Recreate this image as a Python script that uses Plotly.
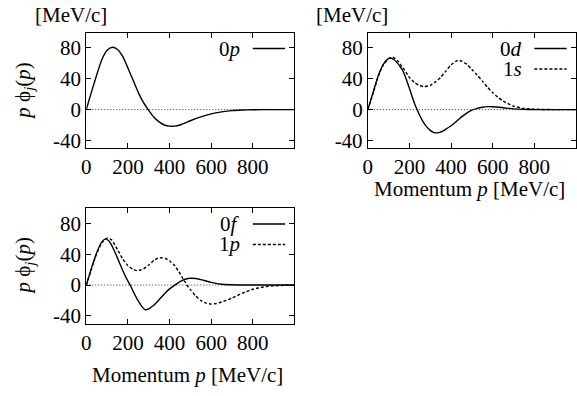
import plotly.graph_objects as go

# ---------------- data ----------------
p_0p = [0, 25, 50, 75, 100, 125, 150, 175, 200, 225, 250, 275, 300, 325, 350, 375, 400, 425, 450,
        500, 550, 600, 650, 700, 750, 800, 900, 1000]
v_0p = [0, 23, 45, 65, 77, 81, 78, 69, 54, 38, 22, 9, -1, -10, -16, -20, -21.5, -21.5, -20,
        -14.5, -9.5, -5.5, -3, -1.3, -0.6, -0.2, 0, 0]

p_0d = [0, 25, 50, 75, 100, 110, 125, 140, 155, 170, 185, 200, 215, 230, 240, 250, 265, 280, 300,
        315, 330, 345, 360, 380, 400, 425, 450, 475, 500, 525, 550, 575, 600, 650, 700, 750, 800,
        900, 1000]
v_0d = [0, 22, 44, 59, 66.5, 67, 65, 61, 56, 49.5, 39, 27.5, 15, 4, -2, -8, -15.5, -21.5, -27,
        -29.5, -30.2, -29.5, -28, -24.5, -21, -15.5, -9.5, -4.5, -0.8, 1.5, 3, 3.8, 3.6, 2.4, 1,
        0.3, 0, 0, 0]

p_1s = [0, 25, 50, 75, 100, 121, 144, 175, 201, 225, 250, 273, 300, 325, 350, 375, 400, 432, 450,
        475, 500, 525, 550, 575, 600, 625, 650, 700, 750, 800, 850, 900, 1000]
v_1s = [0, 21, 43, 58.5, 66, 68, 63, 52, 41.4, 35, 31, 29.9, 31.5, 36, 42, 50, 58, 64, 63,
        59, 52, 45, 37, 29, 22, 16, 11, 4.5, 1.5, 0.5, 0.1, 0, 0]

p_0f = [0, 25, 50, 75, 92, 110, 125, 150, 175, 200, 211, 225, 250, 270, 283, 300, 325, 350, 375,
        400, 425, 450, 475, 500, 525, 550, 600, 650, 700, 750, 1000]
v_0f = [0, 22, 42, 56, 60, 57, 50, 35, 19, 5, 0, -8, -21, -29, -32, -31, -26, -19, -11.5,
        -5, 0, 4.5, 7.5, 8.8, 8.5, 7, 3.5, 1, 0.3, 0, 0]

p_1p = [0, 25, 50, 75, 100, 120, 150, 175, 200, 225, 243, 260, 275, 300, 325, 345, 363, 380, 400,
        425, 450, 463, 475, 483, 500, 525, 550, 575, 600, 625, 650, 700, 750, 800, 850, 900, 950,
        1000]
v_1p = [0, 21, 41, 55, 61, 59, 46, 34, 25, 20.5, 18.7, 19.5, 21, 26, 32, 35, 35.4, 34.5, 31.5,
        25, 15, 9, 4, 0, -6, -14, -20, -23.5, -24.7, -24, -22, -17, -10.5, -5.5, -2.5, -1, -0.3, 0]

x_ticks = [0, 200, 400, 600, 800]
x_ticktext = ["0", "200", "400", "600", "800"]
y_ticks = [-40, 0, 40, 80]
y_ticktext = ["-40", "0", "40", "80"]

FONT = "Times New Roman, Tinos, Nimbus Roman, FreeSerif, DejaVu Serif, serif"
FS = 21

fig = go.Figure()

def add_line(x, y, xa, ya, dash):
    fig.add_trace(go.Scatter(x=x, y=y, xaxis=xa, yaxis=ya, mode="lines",
                             line=dict(color="black", width=1.4, dash=dash,
                                       shape="spline", smoothing=0.6),
                             showlegend=False, hoverinfo="skip"))

add_line(p_0p, v_0p, "x", "y", "solid")
add_line(p_1s, v_1s, "x2", "y2", "3px,2px")
add_line(p_0d, v_0d, "x2", "y2", "solid")
add_line(p_1p, v_1p, "x3", "y3", "3px,2px")
add_line(p_0f, v_0f, "x3", "y3", "solid")

W, H = 577, 396
def px_x(v):
    return v / W
def px_y(v):
    return 1 - v / H

xdom_l = [px_x(82), px_x(292)]
xdom_r = [px_x(366), px_x(576)]
ydom_t = [px_y(150), px_y(33)]
ydom_b = [px_y(327.7), px_y(210.7)]

axis_common = dict(showline=True, linecolor="black", linewidth=1, mirror="ticks",
                   ticks="inside", ticklen=5, tickwidth=1, tickcolor="black",
                   showgrid=False, zeroline=False,
                   tickfont=dict(family=FONT, size=FS, color="black"))

xcommon = dict(axis_common, range=[0, 1000], tickvals=x_ticks, ticktext=x_ticktext)
ycommon = dict(axis_common, range=[-50, 100], tickvals=y_ticks, ticktext=y_ticktext)

layout = dict(
    width=W, height=H, margin=dict(l=0, r=0, t=0, b=0),
    paper_bgcolor="white", plot_bgcolor="white",
    font=dict(family=FONT, size=FS, color="black"),
    xaxis=dict(xcommon, domain=xdom_l, anchor="y"),
    yaxis=dict(ycommon, domain=ydom_t, anchor="x"),
    xaxis2=dict(xcommon, domain=xdom_r, anchor="y2"),
    yaxis2=dict(ycommon, domain=ydom_t, anchor="x2"),
    xaxis3=dict(xcommon, domain=xdom_l, anchor="y3"),
    yaxis3=dict(ycommon, domain=ydom_b, anchor="x3"),
)
fig.update_layout(**layout)

shapes = []
annotations = []

for xa, ya in [("x", "y"), ("x2", "y2"), ("x3", "y3")]:
    shapes.append(dict(type="line", xref=xa + " domain", yref=ya, x0=0, x1=1, y0=0, y1=0,
                       line=dict(color="#333333", width=1, dash="1px,2px"), layer="below"))

keys = [("x", "y", "0<i>p</i>", 0.862, "solid"),
        ("x2", "y2", "0<i>d</i>", 0.862, "solid"),
        ("x2", "y2", "1<i>s</i>", 0.685, "3px,2px"),
        ("x3", "y3", "0<i>f</i>", 0.862, "solid"),
        ("x3", "y3", "1<i>p</i>", 0.685, "3px,2px")]
for xa, ya, label, yk, dash in keys:
    annotations.append(dict(text=label, xref=xa + " domain", yref=ya + " domain",
                            x=0.748, y=yk, xanchor="right", yanchor="middle",
                            showarrow=False, font=dict(family=FONT, size=FS)))
    shapes.append(dict(type="line", xref=xa + " domain", yref=ya + " domain",
                       x0=0.80, x1=0.955, y0=yk, y1=yk,
                       line=dict(color="black", width=1.4, dash=dash)))

annotations.append(dict(text="[MeV/c]", xref="paper", yref="paper", x=px_x(66.5), y=px_y(15.5),
                        xanchor="center", yanchor="middle", showarrow=False,
                        font=dict(family=FONT, size=FS)))
annotations.append(dict(text="[MeV/c]", xref="paper", yref="paper", x=px_x(350.5), y=px_y(15.5),
                        xanchor="center", yanchor="middle", showarrow=False,
                        font=dict(family=FONT, size=FS)))

ytitle = "<i>p</i> ϕ<sub><i>j</i></sub>(<i>p</i>)"
for yc in [92, 269]:
    annotations.append(dict(text=ytitle, xref="paper", yref="paper", x=px_x(19), y=px_y(yc),
                            xanchor="center", yanchor="middle", textangle=-90, showarrow=False,
                            font=dict(family=FONT, size=FS)))

xtitle = "Momentum <i>p</i> [MeV/c]"
annotations.append(dict(text=xtitle, xref="paper", yref="paper", x=px_x(469), y=px_y(191),
                        xanchor="center", yanchor="middle", showarrow=False,
                        font=dict(family=FONT, size=FS)))
annotations.append(dict(text=xtitle, xref="paper", yref="paper", x=px_x(184), y=px_y(380),
                        xanchor="center", yanchor="middle", showarrow=False,
                        font=dict(family=FONT, size=FS)))

fig.update_layout(shapes=shapes, annotations=annotations)
fig.write_html("out.html")
